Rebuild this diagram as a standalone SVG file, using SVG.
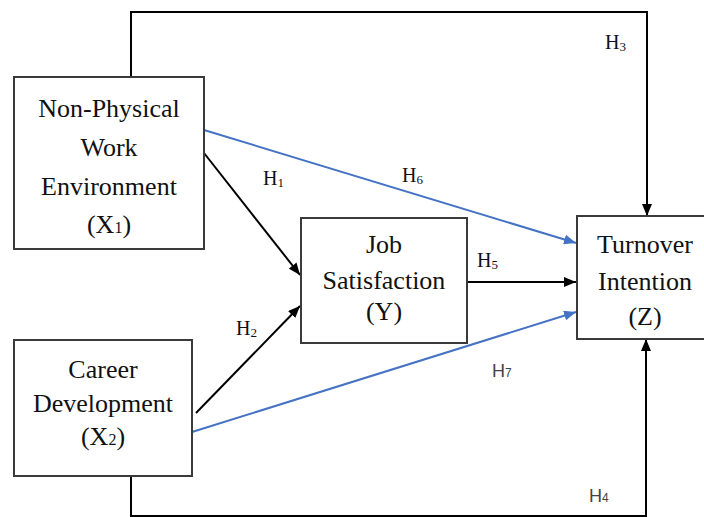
<svg xmlns="http://www.w3.org/2000/svg" width="704" height="517" viewBox="0 0 704 517">
<defs>
<marker id="ab" viewBox="0 0 12 10" refX="12" refY="5" markerWidth="12" markerHeight="10" markerUnits="userSpaceOnUse" orient="auto"><path d="M0,0 L12,5 L0,10 Z" fill="#000"/></marker>
<marker id="au" viewBox="0 0 12 10" refX="12" refY="5" markerWidth="12" markerHeight="10" markerUnits="userSpaceOnUse" orient="auto"><path d="M0,0 L12,5 L0,10 Z" fill="#4472C4"/></marker>
<style>
.box{fill:#fff;stroke:#3a3a3a;stroke-width:2}
.t{font-family:"Liberation Serif","Times New Roman",serif;font-size:26px;fill:#111;text-anchor:middle}
.h{font-family:"Liberation Serif","Times New Roman",serif;font-size:20px;fill:#111}
.hs{font-family:"Liberation Sans",Arial,sans-serif;font-size:18px;fill:#444}
.k{fill:none;stroke:#000;stroke-width:2}
.b{fill:none;stroke:#4472C4;stroke-width:2}
</style>
</defs>
<rect width="704" height="517" fill="#fff"/>
<g id="connectors">
<polyline class="k" points="131,77 131,12 647,12 647,216" marker-end="url(#ab)"/>
<polyline class="k" points="131,476 131,516 646,516 646,339" marker-end="url(#ab)"/>
<line class="k" x1="204" y1="153" x2="300" y2="275" marker-end="url(#ab)"/>
<line class="k" x1="196" y1="413" x2="300" y2="306" marker-end="url(#ab)"/>
<line class="k" x1="467" y1="282" x2="576" y2="282" marker-end="url(#ab)"/>
<line class="b" x1="204" y1="130" x2="576" y2="243" marker-end="url(#au)"/>
<line class="b" x1="192" y1="432" x2="576" y2="312" marker-end="url(#au)"/>
<text class="h" x="605" y="49">H<tspan font-size="13" dy="2">3</tspan></text>
<text class="h" x="263" y="185">H<tspan font-size="13" dy="2">1</tspan></text>
<text class="h" x="402" y="182">H<tspan font-size="13" dy="2">6</tspan></text>
<text class="h" x="477" y="267">H<tspan font-size="13" dy="2">5</tspan></text>
<text class="h" x="236" y="335">H<tspan font-size="13" dy="2">2</tspan></text>
<text class="hs" x="492" y="377">H<tspan font-size="12">7</tspan></text>
<text class="hs" x="589" y="502">H<tspan font-size="12">4</tspan></text>
</g>
<g id="x1">
<rect class="box" x="14" y="77" width="190" height="172"/>
<text class="t" x="109" y="117">Non-Physical</text>
<text class="t" x="109" y="156">Work</text>
<text class="t" x="109" y="195">Environment</text>
<text class="t" x="109" y="233">(X<tspan font-size="16">1</tspan>)</text>
</g>
<g id="x2">
<rect class="box" x="14" y="340" width="178" height="136"/>
<text class="t" x="103" y="378">Career</text>
<text class="t" x="103" y="412">Development</text>
<text class="t" x="103" y="445">(X<tspan font-size="16">2</tspan>)</text>
</g>
<g id="y">
<rect class="box" x="301" y="218" width="166" height="125"/>
<text class="t" x="384" y="253">Job</text>
<text class="t" x="384" y="289">Satisfaction</text>
<text class="t" x="384" y="320">(Y)</text>
</g>
<g id="z">
<rect class="box" x="577" y="216" width="140" height="123"/>
<text class="t" x="645" y="253">Turnover</text>
<text class="t" x="645" y="290">Intention</text>
<text class="t" x="645" y="325">(Z)</text>
</g>
</svg>
